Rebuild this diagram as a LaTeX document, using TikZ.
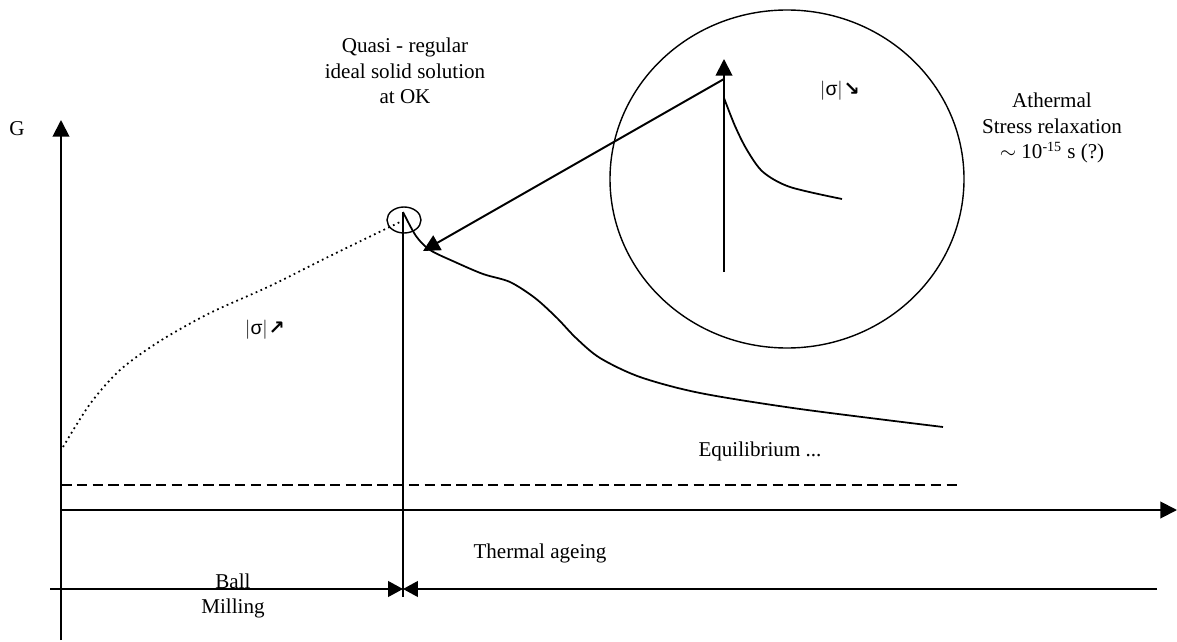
\documentclass[tikz,border=0pt]{standalone}
\usepackage{fontspec}
\setmainfont{Liberation Serif}
\setsansfont{Liberation Sans}
\newfontfamily\arrowfont{DejaVu Sans}
\usetikzlibrary{
  positioning,
  arrows.meta
}
\tikzset{
  axis/.style={line width=1.1pt, -{Triangle[length=9.5pt, width=9.5pt]}},
  curve/.style={line width=1pt},
  ring/.style={line width=0.8pt},
  span/.style={line width=0.9pt, -{Triangle[length=8.5pt, width=9pt]}},
  lbl/.style={font=\fontsize{12}{14.6}\selectfont, text=black, align=center, inner sep=0pt},
  sig/.style={font=\sffamily\fontsize{11}{13}\selectfont, inner sep=0pt}
}
\newcommand{\sigup}{$|$\textsf{σ}$|$\kern0.5pt{\arrowfont\bfseries ↗}}
\newcommand{\sigdown}{$|$\textsf{σ}$|$\kern0.5pt{\arrowfont\bfseries ↘}}

\begin{document}
\begin{tikzpicture}[x=0.02cm, y=-0.02cm]
\useasboundingbox (0,0) rectangle (1177,642);

% axes
\coordinate (yB) at (61,640);
\coordinate (yT) at (61,120);
\coordinate (xL) at (61,510);
\coordinate (xR) at (1177,510);
\draw[axis] (yB) -- (yT);
\draw[axis] (xL) -- (xR);
\node[lbl] (G) at (17,129) {G};

% equilibrium level
\coordinate (eqL) at (61,485);
\coordinate (eqR) at (957,485);
\draw[line width=0.9pt, dash pattern=on 6pt off 3pt] (eqL) -- (eqR);
\node[lbl] (eq) at (760,451) {Equilibrium ...};

% ball milling, then the peak
\draw[curve, dotted] plot[smooth] coordinates {(63,447) (90,404) (120,370) (160,341) (210,313) (270,286) (330,256) (400,222)};
\node[sig] (up) at (265,330) {\sigup};
\coordinate (peak) at (403,212);
\coordinate (peakB) at (403,597);
\draw[curve] (peak) -- (peakB);
\draw[ring] (404,220) ellipse (17 and 13);
\node[lbl] (quasi) at (405,71) {Quasi - regular\\ideal solid solution\\at OK};

% thermal ageing
\draw[curve] plot[smooth] coordinates {(403,212) (416,236) (430,250) (455,262) (483,274) (510,282) (535,298) (557,318) (576,338) (600,358) (640,377) (700,393) (800,409) (943,427)};

% zoom on the relaxation
\draw[ring] (787,179) ellipse (177 and 169);
\coordinate (inB) at (724,272);
\coordinate (inT) at (724,59);
\coordinate (inP) at (724,79);
\coordinate (hit) at (423,251);
\draw[axis] (inB) -- (inT);
\draw[curve] plot[smooth] coordinates {(724,98) (735,126) (747,150) (763,172) (790,187) (842,199)};
\draw[axis] (inP) -- (hit);
\node[sig] (down) at (840,91) {\sigdown};
\node[lbl] (athermal) at (1052,128) {Athermal\\Stress relaxation\\$\sim$ 10\textsuperscript{-15} s (?)};

% time spans
\coordinate (bmL) at (50,589);
\coordinate (split) at (403,589);
\coordinate (taR) at (1157,589);
\draw[span] (bmL) -- (split);
\draw[span] (taR) -- (split);
\node[lbl] (ball) at (233,596) {Ball\\Milling};
\node[lbl] (ageing) at (540,553) {Thermal ageing};

\end{tikzpicture}
\end{document}
